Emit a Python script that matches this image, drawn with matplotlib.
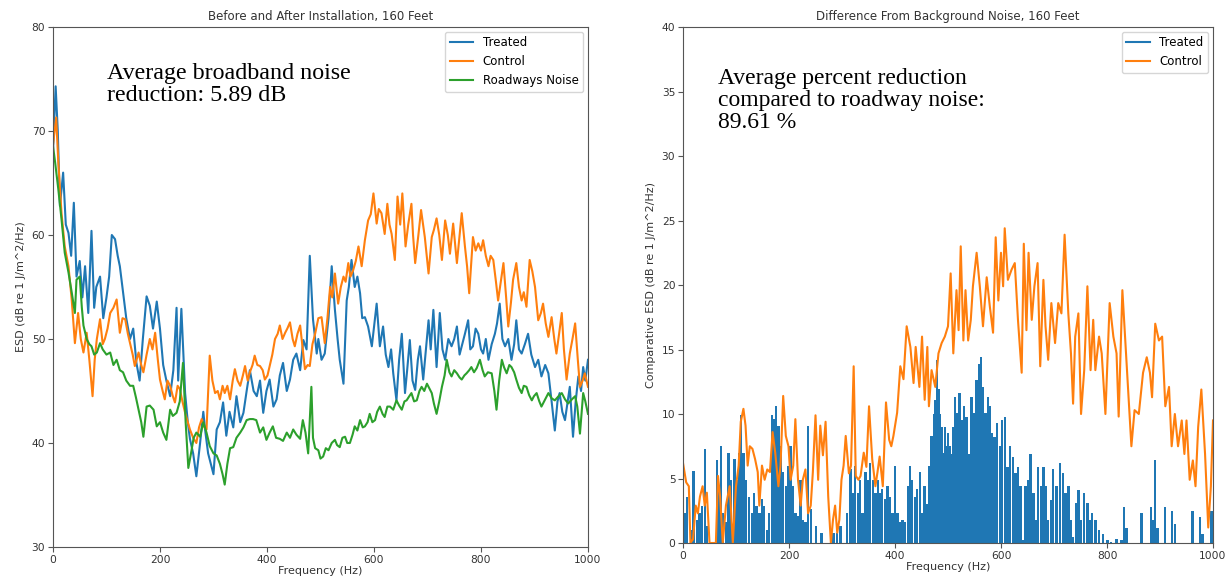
import numpy as np
import matplotlib
matplotlib.use("Agg")
import matplotlib.pyplot as plt
from matplotlib.lines import Line2D

# ---- left panel: ESD before / after ----
treated_f = [0, 5, 9, 13, 19, 24, 29, 34, 39, 44, 50, 55, 60, 66, 72, 77, 81, 88, 94, 100,
             105, 110, 116, 121, 125, 131, 137, 144, 150, 156, 162, 168, 175, 181, 187, 194, 200,
             206, 212, 219, 225, 231, 234, 240, 247, 252, 256, 262, 268, 275, 281, 285, 290, 295,
             300, 306, 312, 318, 324, 330, 337, 343, 350, 356, 362, 368, 375, 381, 387, 393, 399,
             405, 412, 418, 424, 430, 437, 443, 449, 455, 462, 468, 474, 480, 486, 493, 496, 502,
             508, 515, 521, 527, 532, 536, 543, 549, 553, 558, 564, 569, 574, 578, 583, 589, 596,
             605, 611, 617, 622, 627, 632, 636, 642, 647, 652, 658, 662, 667, 672, 677, 682, 686,
             692, 697, 702, 706, 711, 717, 723, 728, 733, 739, 745, 750, 755, 760, 764, 770, 776,
             780, 785, 790, 795, 800, 804, 809, 814, 820, 826, 830, 835, 840, 845, 851, 857, 862,
             866, 871, 876, 882, 888, 894, 901, 907, 913, 920, 926, 932, 938, 943, 947, 952, 957,
             962, 966, 969, 972, 977, 982, 987, 991, 995, 1000]
treated_esd = [68, 74.3, 70, 62.8, 66, 61, 60.2, 58, 63.1, 56, 57.5, 54, 57, 52.5, 60.4, 53, 55, 56, 52, 54,
               56, 60, 59.6, 58, 57, 54.5, 52, 50, 51, 47.7, 46, 50, 54.1, 53.2, 51, 53.6, 51,
               47.5, 46, 44.5, 47, 53, 46, 52.9, 44.8, 42, 40.4, 39, 36.8, 40, 43, 41, 39, 38,
               37, 41.3, 42, 43.9, 40.7, 43, 41.5, 44.5, 42, 42.9, 45, 47, 45, 44.5, 46, 42.9, 45,
               46.1, 43.5, 44.2, 46.5, 47.7, 45, 46.1, 48, 48.6, 47, 49.9, 49, 58, 51.9, 48.6, 50, 48,
               48.6, 52, 57, 52.8, 50, 48, 45.7, 53.7, 55, 57.6, 55, 56, 54.4, 52, 52.1, 51.2, 49.3,
               53.4, 49.3, 51.2, 48.5, 47.3, 49, 46.7, 44.1, 48, 50.5, 44.8, 47, 49.9, 46, 45.1, 48, 49.3,
               46.1, 49, 51.8, 49, 52.8, 47.3, 52.5, 49, 48, 50, 49.3, 50, 51.2, 48.5, 49.3, 50.5, 51.8,
               49, 49.3, 51, 50.5, 49, 48.6, 50, 48, 49.5, 50.5, 51.5, 53.4, 50, 49.3, 50, 48, 49.5,
               51.8, 49, 48.6, 49.5, 50.5, 48.5, 47.3, 48, 46.4, 47.5, 46.7, 44, 41.2, 44, 44.8, 43, 42.2,
               44, 45.4, 43, 40.6, 44, 46.4, 45, 47.3, 46, 48]

control_f = [0, 6, 10, 16, 22, 29, 35, 41, 47, 52, 57, 63, 68, 74, 78, 82, 88, 93, 97, 102,
             107, 113, 119, 125, 130, 135, 140, 144, 149, 153, 160, 165, 169, 175, 181, 186, 191, 196,
             200, 205, 209, 214, 219, 224, 228, 233, 237, 242, 247, 252, 256, 262, 268, 273, 278, 283,
             287, 293, 298, 303, 308, 312, 317, 321, 326, 331, 336, 340, 345, 350, 355, 359, 364, 368,
             373, 377, 382, 387, 392, 396, 401, 405, 410, 415, 420, 424, 429, 434, 438, 443, 448, 452,
             457, 462, 467, 471, 476, 480, 485, 490, 496, 502, 508, 513, 518, 522, 527, 533, 538, 543,
             547, 552, 556, 561, 566, 571, 577, 583, 589, 594, 599, 605, 609, 614, 620, 625, 629, 633,
             639, 644, 649, 653, 659, 664, 670, 673, 677, 683, 688, 695, 702, 708, 712, 717, 722, 727,
             733, 738, 742, 748, 755, 760, 764, 770, 774, 778, 782, 785, 790, 795, 800, 804, 809, 814,
             818, 823, 828, 832, 837, 842, 847, 851, 856, 860, 866, 871, 876, 880, 885, 891, 896, 901,
             907, 912, 916, 921, 926, 932, 937, 941, 946, 951, 955, 960, 966, 971, 976, 981, 985, 990,
             994, 1000]
control_esd = [68.6, 71.3, 67, 62.1, 58.9, 57, 53.8, 49.6, 52.5, 50, 48.7, 50.6, 48, 44.5, 48, 50, 51.9, 49.5, 50, 51,
               52.5, 53, 53.8, 50.6, 52, 51.9, 50.5, 49.6, 48.5, 47.4, 48.7, 47.5, 46.8, 48.5, 50, 49, 50.6, 48,
               46.1, 45, 44.2, 46, 45.5, 44.5, 43.9, 45.5, 45.2, 44, 42.9, 42, 41.3, 40.5, 40, 41.5, 42.3, 41.5,
               41.3, 48.4, 46, 44.8, 45, 44.2, 45.5, 44.8, 45.5, 44.2, 46, 47.1, 46, 45.5, 46.5, 47.4, 46, 46.8,
               47.5, 48.4, 47.5, 47.4, 47, 46.1, 46.5, 47.4, 48.5, 50, 50.5, 51.3, 50, 50.6, 51, 51.6, 50, 49.3,
               50.5, 51.3, 49, 47.1, 47.5, 47.4, 49.5, 50.5, 52, 52.1, 49.6, 52, 55, 54, 56.3, 53.4, 55, 56,
               55.5, 57.3, 56, 56.6, 57.5, 58.9, 57, 59.5, 61.4, 62, 64, 61.1, 62.5, 62.1, 60.1, 63, 61, 60.1,
               57.6, 63.7, 61, 64, 58.9, 61, 63, 60, 57.3, 60, 62.4, 59.8, 56.3, 59.8, 60.5, 61.6, 60, 57.6,
               61.4, 60, 58.2, 61.1, 57.3, 60, 62.1, 58.9, 57, 54.4, 57.5, 59.8, 58.5, 59.2, 58.5, 59.5, 58, 57,
               58, 57.6, 55.5, 53.7, 55.5, 57.3, 54, 51.2, 53.5, 55.7, 57.3, 55, 53.7, 54.5, 53.1, 57.6, 56.5, 55,
               51.8, 52.5, 53.4, 51.5, 50.2, 52.1, 50, 48.6, 50.5, 52.5, 49, 46.1, 48.6, 50, 51.5, 48, 45.4, 46,
               46.7, 45.4]

road_f = [0, 4, 10, 16, 22, 29, 35, 41, 44, 50, 54, 57, 63, 68, 72, 77, 82, 88, 93, 100,
          107, 113, 119, 125, 131, 137, 144, 150, 155, 160, 165, 169, 175, 181, 188, 194, 200, 206,
          212, 219, 224, 231, 237, 243, 248, 253, 258, 263, 268, 275, 281, 287, 293, 300, 306, 312,
          317, 321, 326, 331, 337, 343, 350, 356, 362, 368, 374, 380, 387, 393, 399, 405, 411, 417,
          424, 430, 437, 443, 449, 455, 462, 467, 472, 477, 483, 486, 490, 496, 500, 505, 510, 515,
          521, 527, 531, 536, 541, 546, 550, 555, 560, 564, 569, 574, 579, 583, 588, 592, 597, 602,
          606, 611, 616, 620, 625, 630, 636, 642, 647, 652, 657, 661, 666, 670, 675, 680, 685, 689,
          694, 699, 704, 708, 712, 717, 722, 727, 732, 736, 741, 745, 750, 755, 760, 764, 769, 773,
          778, 782, 787, 792, 798, 803, 807, 813, 820, 825, 829, 834, 839, 843, 848, 853, 857, 862,
          866, 871, 876, 880, 885, 890, 895, 899, 904, 909, 913, 920, 926, 932, 938, 945, 951, 957,
          963, 970, 976, 980, 985, 991, 995, 1000]
road_esd = [68.6, 67, 64.4, 61.5, 58.3, 56.4, 54.5, 52.5, 55.7, 56, 53, 51.3, 50, 49.5, 49.3, 48.5, 48.7, 49.6, 49, 48.5,
            48.7, 47.5, 48, 47, 46.8, 46, 45.5, 45.5, 44.4, 43.2, 42, 40.6, 43.5, 43.6, 43.2, 41.6, 42, 41,
            40.3, 43.2, 42.6, 42.9, 44, 47.7, 42, 37.6, 39, 40.5, 41, 40.6, 42, 41, 39.7, 39, 38.8, 38,
            37, 36, 38, 39.5, 39.6, 40.5, 41, 41.5, 42.2, 42.3, 42.3, 42.2, 41, 41.5, 40.3, 41, 41.6, 40.5,
            40.4, 40.2, 41, 40.5, 41.3, 40.8, 40.4, 42.2, 41, 39, 45.4, 40.5, 39.5, 39.3, 38.5, 38.7, 39.5, 39.3,
            40, 40.3, 39.8, 39.6, 40.5, 40.6, 40, 40, 40.8, 41.6, 41.2, 42.2, 41.5, 41.6, 42, 42.8, 42, 42.2,
            43, 43.5, 42.8, 42.5, 43.5, 43.5, 43.2, 44.1, 43.6, 43.2, 44, 44.1, 44.5, 44.8, 44, 44.1, 45, 45.4,
            45, 45.7, 45.2, 44.8, 43.8, 42.8, 44, 45.4, 46.5, 48, 46.8, 46.4, 47, 46.7, 46.3, 46.1, 46.5, 46.7,
            47, 47.3, 46.8, 47.2, 48, 47, 46.4, 46.8, 46.7, 45, 43.2, 46, 48, 47.3, 46.7, 47.5, 47.3, 46.8,
            46.1, 45.3, 44.8, 45.5, 45.4, 44.6, 44.1, 44.5, 44.8, 44, 43.5, 44.2, 44.8, 44.3, 44.1, 44.5, 44.8, 44.2,
            43.8, 44.2, 44.5, 43.5, 40.9, 44.8, 44, 42.8]

# ---- right panel: difference from background noise ----
ctrl_diff_f = [0, 6, 11, 14, 19, 24, 28, 32, 37, 41, 45, 50, 56, 62, 66, 70, 75, 81, 88, 94,
               100, 105, 109, 114, 118, 122, 126, 131, 136, 141, 144, 149, 154, 159, 164, 169, 174, 180,
               184, 189, 194, 199, 203, 208, 212, 217, 222, 226, 231, 236, 241, 245, 250, 255, 259, 264,
               269, 274, 279, 283, 287, 291, 295, 299, 303, 307, 313, 317, 322, 326, 331, 335, 341, 346,
               351, 357, 363, 367, 371, 377, 383, 389, 393, 397, 404, 410, 416, 422, 429, 435, 439, 446,
               451, 456, 461, 464, 469, 476, 482, 488, 494, 500, 505, 510, 516, 520, 524, 529, 533, 538,
               543, 547, 554, 560, 566, 573, 579, 585, 590, 595, 600, 604, 607, 613, 620, 626, 632, 639,
               643, 648, 652, 658, 663, 669, 674, 680, 684, 689, 695, 702, 708, 714, 720, 727, 732, 736,
               740, 746, 751, 757, 763, 769, 774, 778, 785, 790, 797, 805, 812, 818, 822, 829, 834, 840,
               846, 852, 860, 868, 875, 881, 885, 891, 898, 904, 910, 917, 922, 928, 934, 941, 946, 950,
               956, 962, 967, 972, 978, 985, 991, 996, 1000]
ctrl_diff = [6.2, 4.7, 4.4, 0, 0.3, 2.9, 2.3, 3.6, 4.4, 2.9, 3.9, 0, 0, 0, 5.2, 3.6, 0, 2.9, 4.4, 0,
             4.4, 6, 9.4, 10.4, 9.1, 6, 7.5, 7.3, 6.5, 5.5, 2.9, 6, 4.9, 5.7, 5.5, 8.6, 7, 4.4,
             6, 11.4, 8.3, 7.5, 4.9, 6, 9.6, 4.9, 2.9, 4.9, 5.7, 2.3, 2.9, 5.5, 9.9, 4.9, 9.1, 6.8,
             9.4, 3.6, 0, 1.8, 2.9, 0.8, 1.8, 4.9, 6, 8.3, 5.4, 6, 13.7, 5.2, 4.9, 5.2, 7, 5.9,
             10.6, 6.5, 4.4, 5.5, 6.7, 4.4, 10.9, 8, 7.5, 8.3, 10.1, 13.7, 12.7, 16.8, 15.2, 12.4, 15.2, 12.1,
             16, 11.1, 15.2, 10.6, 13.4, 12.1, 14.7, 15.5, 16, 16.8, 20.9, 14.7, 19.6, 16.5, 23, 15.7, 19.6, 15.7,
             17.3, 19.9, 22.5, 19.9, 16.8, 20.6, 18.3, 16.3, 23.7, 18.8, 22.5, 19.9, 24.4, 20.4, 21.2, 21.7, 17.3, 13.2,
             23.2, 16.5, 22.5, 17.3, 19.9, 21.7, 13.7, 20.4, 16.8, 14.2, 18.6, 15.5, 18.6, 17.8, 23.9, 17.8, 14.7, 10.8,
             16, 17.8, 10, 13.4, 19.9, 13.4, 17.3, 13.4, 16, 14.7, 10, 18.6, 16, 14.7, 9.8, 19.6, 16, 11.6,
             7.5, 10.3, 10, 13.2, 14.4, 13.2, 11.3, 17, 15.7, 16, 10.6, 12.1, 7.5, 10, 7.5, 9.5, 6.9, 9.5,
             4.9, 6.4, 4.4, 9, 11.9, 6.9, 1.2, 4.4, 9.5]

treat_diff_f = [3, 8, 12, 16, 20, 26, 31, 36, 41, 45, 50, 55, 60, 64, 69, 72, 76, 81, 86, 91,
                97, 101, 106, 109, 114, 119, 125, 130, 134, 139, 144, 149, 153, 158, 162, 168, 172, 176,
                180, 184, 189, 194, 199, 203, 208, 212, 217, 222, 226, 231, 236, 241, 246, 251, 256, 261,
                265, 270, 275, 279, 284, 291, 297, 303, 309, 316, 320, 325, 330, 334, 339, 344, 349, 353,
                358, 363, 368, 372, 376, 381, 386, 391, 395, 400, 405, 409, 414, 419, 424, 428, 432, 438,
                442, 447, 451, 456, 460, 465, 469, 474, 476, 479, 482, 485, 488, 491, 494, 497, 500, 504,
                507, 510, 513, 518, 522, 527, 530, 535, 539, 544, 549, 554, 558, 562, 566, 571, 575, 579,
                583, 588, 593, 598, 602, 607, 612, 617, 623, 627, 632, 637, 642, 646, 651, 656, 661, 665,
                670, 675, 680, 684, 689, 694, 698, 705, 711, 717, 722, 727, 732, 736, 741, 746, 751, 757,
                763, 768, 772, 778, 785, 793, 801, 808, 818, 827, 832, 837, 865, 883, 887, 891, 895, 910,
                923, 928, 961, 975, 980, 997]
treat_diff = [2.3, 3.6, 0, 1, 5.6, 1.8, 2.3, 2.9, 7.3, 1.3, 0, 0, 0, 6.4, 4.4, 7.5, 2.3, 1.6, 7, 4.9,
              6.5, 4.9, 7, 9.9, 7, 4.9, 3.6, 2.3, 3.9, 2.9, 2.3, 3.4, 2.9, 1, 2.3, 9.9, 9.6, 10.6,
              9.1, 7.5, 5.5, 4.4, 6, 7.5, 4.4, 2.3, 2.1, 4.9, 1.8, 1.6, 9.1, 2.6, 0, 1.3, 0, 0.8,
              0, 0, 0, 0, 0.8, 0.8, 1.3, 0, 2.3, 5.7, 3.9, 6, 3.9, 4.9, 2.3, 5.5, 4.9, 6.2,
              4.9, 3.9, 4.9, 3.9, 4.2, 3.4, 4.4, 3.6, 2.3, 6, 2.3, 1.6, 1.8, 1.6, 4.4, 6, 4.9, 3.6,
              4.2, 5.5, 2.3, 4.4, 3, 6, 8.3, 10, 11.1, 14.2, 11.9, 10, 9, 7, 9, 7.5, 8.5, 7.5,
              6.9, 9, 11.3, 10.1, 11.6, 9.5, 10.6, 9.8, 6.9, 11.3, 10.1, 12.6, 13.9, 14.4, 12.1, 10.1, 11.3, 10.6,
              8.5, 8.2, 9.3, 7.5, 9.5, 9.8, 5.9, 7.5, 6.7, 5.4, 5.9, 4.4, 0.2, 4.4, 4.9, 6.9, 3.9, 1.8,
              5.9, 4.4, 5.9, 4.4, 1.8, 3.3, 5.7, 4.4, 6.2, 5.4, 3.9, 4.4, 1.8, 0.5, 3.1, 4.1, 1.8, 3.9,
              3.1, 1.8, 2.3, 1.8, 1, 0.7, 0.2, 0.1, 0.3, 0.2, 2.8, 1.2, 2.3, 2.8, 1.8, 6.4, 1.2, 2.8,
              2.5, 1.5, 2.5, 2, 0.7, 2.5]

BLUE, ORANGE, GREEN = "#1f77b4", "#ff7f0e", "#2ca02c"

plt.rcParams["font.family"] = ["DejaVu Sans"]
plt.rcParams["axes.edgecolor"] = "#555555"
plt.rcParams["xtick.color"] = "#555555"
plt.rcParams["ytick.color"] = "#555555"
plt.rcParams["xtick.labelcolor"] = "#333333"
plt.rcParams["ytick.labelcolor"] = "#333333"

fig = plt.figure(figsize=(12.26, 5.85), dpi=100)
ax1 = fig.add_axes([0.0432, 0.065, 0.4364, 0.8888])
ax2 = fig.add_axes([0.5571, 0.0718, 0.4323, 0.882])

# left
ax1.plot(treated_f, treated_esd, color=BLUE, lw=1.5, label="Treated")
ax1.plot(control_f, control_esd, color=ORANGE, lw=1.5, label="Control")
ax1.plot(road_f, road_esd, color=GREEN, lw=1.5, label="Roadways Noise")
ax1.set_xlim(0, 1000)
ax1.set_ylim(30, 80)
ax1.set_xticks(np.arange(0, 1001, 200))
ax1.set_yticks(np.arange(30, 81, 10))
ax1.set_title("Before and After Installation, 160 Feet", fontsize=8.5, color="#333333", pad=5)
ax1.set_xlabel("Frequency (Hz)", fontsize=8, color="#333333", labelpad=1)
ax1.set_ylabel("ESD (dB re 1 J/m^2/Hz)", fontsize=8, color="#333333", labelpad=4)
ax1.legend(loc="upper right", fontsize=8.5, handlelength=2, borderaxespad=0.4)
ax1.text(0.101, 0.93, "Average broadband noise\nreduction: 5.89 dB", transform=ax1.transAxes,
         ha="left", va="top", fontsize=17.3, family="Liberation Serif", linespacing=1.05)

# right
ax2.bar(treat_diff_f, treat_diff, width=4.5, color=BLUE, linewidth=0)
ax2.plot(ctrl_diff_f, ctrl_diff, color=ORANGE, lw=1.5)
ax2.set_xlim(0, 1000)
ax2.set_ylim(0, 40)
ax2.set_xticks(np.arange(0, 1001, 200))
ax2.set_yticks(np.arange(0, 41, 5))
ax2.set_title("Difference From Background Noise, 160 Feet", fontsize=8.5, color="#333333", pad=5)
ax2.set_xlabel("Frequency (Hz)", fontsize=8, color="#333333", labelpad=1)
ax2.set_ylabel("Comparative ESD (dB re 1 J/m^2/Hz)", fontsize=8, color="#333333", labelpad=4)
handles = [Line2D([], [], color=BLUE, lw=1.5), Line2D([], [], color=ORANGE, lw=1.5)]
ax2.legend(handles, ["Treated", "Control"], loc="upper right", fontsize=8.5, borderaxespad=0.4)
ax2.text(0.066, 0.92, "Average percent reduction\ncompared to roadway noise:\n89.61 %",
         transform=ax2.transAxes, ha="left", va="top", fontsize=17, family="Liberation Serif",
         linespacing=1.05)

for ax in (ax1, ax2):
    ax.tick_params(labelsize=7.7, length=3.5, pad=2)

fig.savefig("out.png", dpi=100)
